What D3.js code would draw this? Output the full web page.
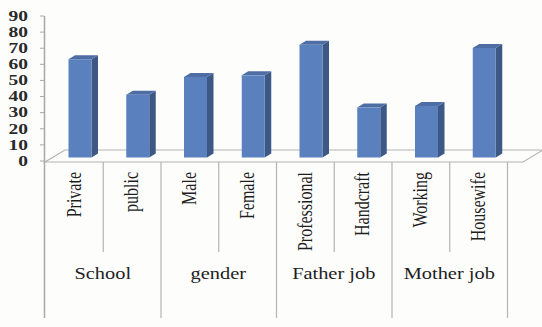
<!DOCTYPE html>
<html><head><meta charset="utf-8">
<script src="https://cdn.jsdelivr.net/npm/d3@7"></script>
<style>html,body{margin:0;padding:0;background:#fdfdfc;}svg{display:block;}
text{font-family:"Liberation Serif","Times New Roman",Times,serif;}</style>
</head><body>
<svg id="c" width="542" height="327"></svg>
<script>
const categories = ["Private","public","Male","Female","Professional","Handcraft","Working","Housewife"];
const groups = ["School","gender","Father job","Mother job"];
const values = [61, 39, 50, 51, 70, 31, 32, 68];
const yTicks = [0,10,20,30,40,50,60,70,80,90];

const svg = d3.select("#c");
const x = d3.scaleBand().domain(categories).range([45, 507]);
const y = d3.scaleLinear().domain([0, 90]).range([161, 16]);
const gx = d3.scaleBand().domain(groups).range([45, 507]);
const lineCol = "#b4b4b4";
const SX = 1.25;

// floor
const fy = 162, by = 150, fdx = 20;
svg.append("path")
  .attr("d", `M45,${fy} L523,${fy} L${523+fdx},${by} L${45+fdx},${by} Z`)
  .attr("fill", "#fdfdfc").attr("stroke", lineCol).attr("stroke-width", 1.2);

// y axis line & ticks
svg.append("line").attr("x1",44.5).attr("x2",44.5).attr("y1",y(90)).attr("y2",318)
  .attr("stroke","#a8a8a8").attr("stroke-width",1.5);
const yl = svg.append("g");
yTicks.forEach(t => {
  yl.append("line").attr("x1",40).attr("x2",44).attr("y1",y(t)).attr("y2",y(t))
    .attr("stroke","#a8a8a8");
  yl.append("text").attr("transform",`translate(28,${y(t)}) scale(1.3,1)`)
    .attr("text-anchor","end").attr("dominant-baseline","central")
    .attr("font-weight","bold")
    .attr("font-size",15).attr("fill","#2a2a2a").text(t);
});

// bars
const off = 3.5, dx = 6.5, dy = -4, bw = 23;
const bars = svg.append("g");
categories.forEach((c,i) => {
  const x0 = x(c) + 23.5, x1 = x0 + bw;
  const yt = y(values[i]) - off, yb = y(0) - off;
  bars.append("path").attr("d",`M${x1},${yt} L${x1+dx},${yt+dy} L${x1+dx},${yb+dy} L${x1},${yb} Z`)
    .attr("fill","#3e5886");
  bars.append("path").attr("d",`M${x0},${yt} L${x0+dx},${yt+dy} L${x1+dx},${yt+dy} L${x1},${yt} Z`)
    .attr("fill","#4e6da3");
  bars.append("rect").attr("x",x0).attr("y",yt).attr("width",bw).attr("height",yb-yt)
    .attr("fill","#5b80be");
});

// separators
const sep = svg.append("g");
categories.forEach((c,i) => {
  if (i === 0) return;
  const isGroup = i % 2 === 0;
  sep.append("line").attr("x1",x(c)+0.5).attr("x2",x(c)+0.5).attr("y1",fy).attr("y2",isGroup?318:252)
    .attr("stroke",lineCol).attr("stroke-width",1.2);
});
sep.append("line").attr("x1",507.5).attr("x2",507.5).attr("y1",fy).attr("y2",318)
  .attr("stroke",lineCol).attr("stroke-width",1.2);

// category labels
categories.forEach(c => {
  svg.append("text").attr("transform",`translate(${x(c)+x.bandwidth()/2},172) scale(${SX},1) rotate(-90)`)
    .attr("text-anchor","end").attr("dominant-baseline","central")
    .attr("font-size",16).attr("fill","#1e1e1e").text(c);
});
// group labels
groups.forEach(g => {
  svg.append("text").attr("transform",`translate(${gx(g)+gx.bandwidth()/2},273) scale(1.2,1)`)
    .attr("text-anchor","middle").attr("dominant-baseline","central")
    .attr("font-size",17).attr("fill","#1e1e1e").text(g);
});
</script>
</body></html>
